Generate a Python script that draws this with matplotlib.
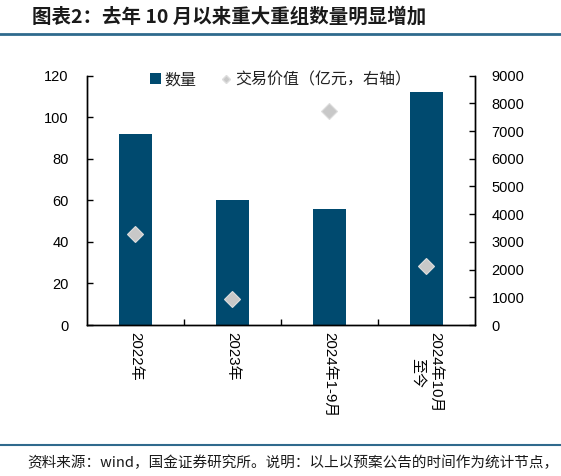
import matplotlib
matplotlib.use("Agg")
import matplotlib.pyplot as plt
from matplotlib.lines import Line2D
from matplotlib.patches import Patch

plt.rcParams['font.family'] = ['Liberation Sans', 'Noto Sans CJK SC', 'DejaVu Sans']

categories = ["2022年", "2023年", "2024年1-9月", "2024年10月\n至今"]
counts = [92, 60, 56, 112]
values = [3280, 940, 7730, 2120]
left_ticks = [0, 20, 40, 60, 80, 100, 120]
right_ticks = [0, 1000, 2000, 3000, 4000, 5000, 6000, 7000, 8000, 9000]

bar_color = '#004A6F'
dia_color = '#C8C8C8'

fig = plt.figure(figsize=(5.61, 4.76), dpi=100)
ax = fig.add_axes([0.1545, 0.3172, 0.692, 0.5238])
ax2 = ax.twinx()

x = list(range(len(categories)))
ax.bar(x, counts, width=0.34, color=bar_color, zorder=2)
ax.set_ylim(0, 120)
ax.set_xlim(-0.5, len(categories) - 0.5)
ax.set_yticks(left_ticks)
ax.set_xticks([i + 0.5 for i in range(len(categories) - 1)])
ax.set_xticklabels([])
ax.tick_params(axis='x', direction='in', length=4, width=1, color='black')
ax.tick_params(axis='y', direction='in', length=4, width=1, labelsize=10.5, pad=13)
for i, c in enumerate(categories):
    ax.text(i, -3.5, c, rotation=-90, ha='center', va='top', fontsize=10.8,
            linespacing=1.3, family=['Liberation Sans', 'Noto Sans CJK SC'])

ax2.plot(x, values, linestyle='none', marker='D', markersize=8.5,
         markerfacecolor=dia_color, markeredgecolor='#DDDDDD', markeredgewidth=0.8, zorder=3)
ax2.set_ylim(0, 9000)
ax2.set_yticks(right_ticks)
ax2.tick_params(axis='y', direction='in', length=4, width=1, labelsize=10.5, pad=12)

for a in (ax, ax2):
    a.spines['top'].set_visible(False)
    for s in ('left', 'right', 'bottom'):
        a.spines[s].set_linewidth(1.0)
        a.spines[s].set_color('black')

handles = [Patch(facecolor=bar_color, edgecolor='none'),
           Line2D([], [], linestyle='none', marker='D', markersize=4.5,
                  markerfacecolor=dia_color, markeredgecolor='#DDDDDD')]
leg = ax.legend(handles, ["数量", "交易价值（亿元，右轴）"], loc='center',
                bbox_to_anchor=(0.5, 0.983), ncol=2, frameon=False,
                prop={'family': ['Noto Sans CJK SC'], 'size': 11.5},
                handlelength=0.65, handleheight=0.65, handletextpad=0.25, columnspacing=1.5,
                borderpad=0.2)
for t in leg.get_texts():
    t.set_color('#222222')

# Title and decorations
fig.text(32 / 561, 1 - 17 / 476, "图表2：去年 10 月以来重大重组数量明显增加", ha='left', va='center',
         fontsize=14, fontweight='bold', style='italic', color='#1a1a1a',
         family=['Noto Sans CJK SC', 'DejaVu Sans'])
fig.add_artist(Line2D([0, 1], [1 - 34 / 476, 1 - 34 / 476], transform=fig.transFigure,
                      color='#2F6A8D', linewidth=2))
fig.add_artist(Line2D([0, 1], [1 - 445 / 476, 1 - 445 / 476], transform=fig.transFigure,
                      color='#2F6A8D', linewidth=1.5))
fig.text(27 / 561, 1 - 463 / 476, "资料来源：wind，国金证券研究所。说明：以上以预案公告的时间作为统计节点，",
         ha='left', va='center', fontsize=10.5, color='#1a1a1a',
         family=['Noto Sans CJK SC', 'DejaVu Sans'])

fig.savefig("out.png", dpi=100)
